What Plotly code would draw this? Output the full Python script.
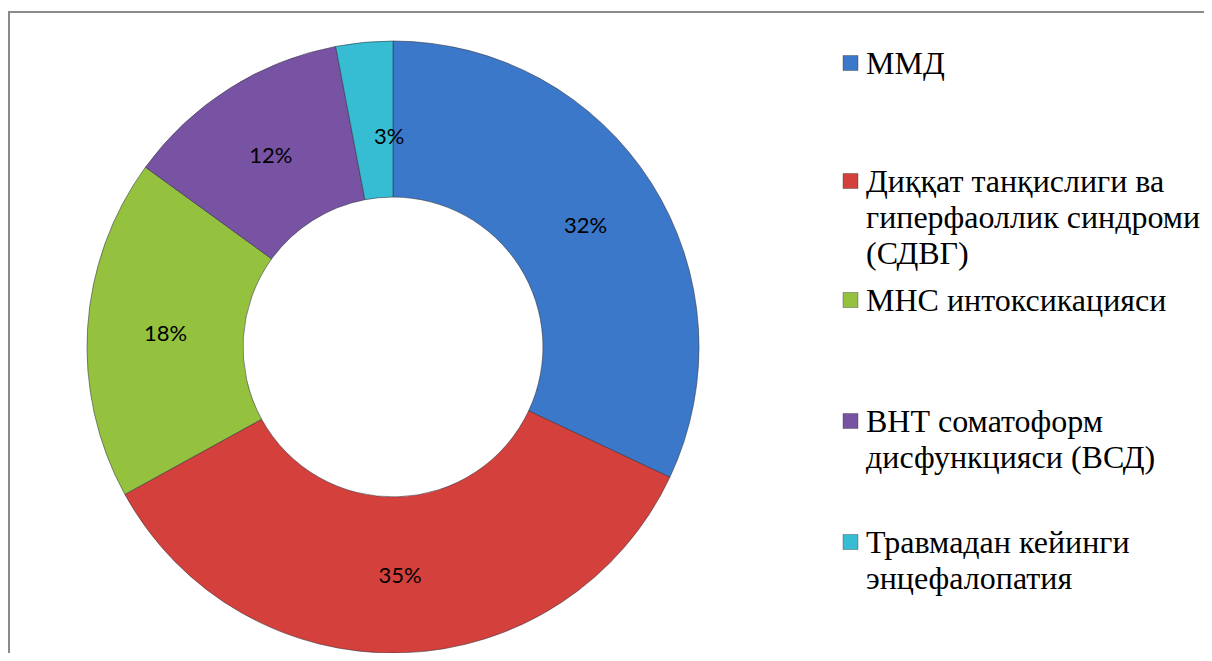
import math
import plotly.graph_objects as go

# Data
labels = ["ММД",
          "Диққат танқислиги ва<br>гиперфаоллик синдроми<br>(СДВГ)",
          "МНС интоксикацияси",
          "ВНТ соматоформ<br>дисфункцияси (ВСД)",
          "Травмадан кейинги<br>энцефалопатия"]
values = [32, 35, 18, 12, 3]
colors = ["#3b78c9", "#d4403b", "#94c23f", "#7853a3", "#36bdd4"]

# page is offset 8px by the body margin, so the figure is 16px smaller than the window
W, H = 1196, 645
OFF = 8

def px(x):
    return (x - OFF) / W

def py(y):
    return 1 - (y - OFF) / H

R = 306
HOLE = 0.49
cx, cy = 393, 347

# plotly pushes the label of a thin slice to the rim; Excel keeps it mid-ring
total = sum(values)
small = [v / total < 0.05 for v in values]
templates = ["" if s else "%{percent:.0%}" for s in small]

fig = go.Figure(go.Pie(
    labels=labels,
    values=values,
    sort=False,
    direction="clockwise",
    rotation=0,
    hole=HOLE,
    marker=dict(colors=colors, line=dict(color="rgba(50,50,60,0.55)", width=1)),
    texttemplate=templates,
    textposition="inside",
    insidetextorientation="horizontal",
    textfont=dict(family="Lato", size=22, color="black"),
    domain=dict(x=[px(cx - R), px(cx + R)], y=[py(cy + R), py(cy - R)]),
    showlegend=False,
    hoverinfo="label+percent",
))

annotations = []
cum = 0
rmid = R * (1 + HOLE) / 2
for v, s in zip(values, small):
    ang = math.radians((cum + v / 2) / total * 360)
    cum += v
    if s:
        annotations.append(dict(text=f"{round(v / total * 100)}%", xref="paper", yref="paper",
                                x=px(cx + rmid * math.sin(ang)), y=py(cy - rmid * math.cos(ang)),
                                showarrow=False, font=dict(family="Lato", size=22, color="black")))

# hand-placed legend, Excel style
legend_first_line_y = [63, 181, 300, 421, 542]
line_gap = 36
shapes = [dict(type="rect", xref="paper", yref="paper",
               x0=px(9), x1=1.02, y0=-0.03, y1=py(12),
               line=dict(color="#8a8a8a", width=2), fillcolor="rgba(0,0,0,0)")]
for lab, col, y0 in zip(labels, colors, legend_first_line_y):
    shapes.append(dict(type="rect", xref="paper", yref="paper",
                       x0=px(843), x1=px(858), y0=py(y0 + 7.5), y1=py(y0 - 7.5),
                       fillcolor=col, line=dict(color="rgba(40,40,40,0.35)", width=1)))
    for i, line in enumerate(lab.split("<br>")):
        annotations.append(dict(text=line, xref="paper", yref="paper",
                                x=px(864), y=py(y0 + i * line_gap),
                                xanchor="left", yanchor="middle",
                                align="left", showarrow=False,
                                font=dict(family="Liberation Serif", size=32, color="black")))

fig.update_layout(
    width=W, height=H,
    margin=dict(l=0, r=0, t=0, b=0),
    paper_bgcolor="white",
    plot_bgcolor="white",
    shapes=shapes,
    annotations=annotations,
)

fig.write_html("out.html")
